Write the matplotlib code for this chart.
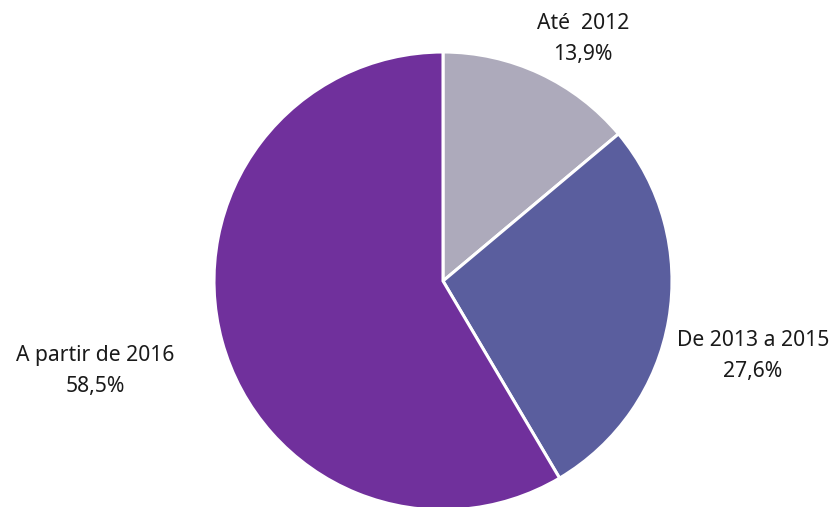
import matplotlib
matplotlib.use("Agg")
import matplotlib.pyplot as plt

# Data
categories = ["Até  2012", "De 2013 a 2015", "A partir de 2016"]
shares = [13.9, 27.6, 58.5]
pct_labels = ["13,9%", "27,6%", "58,5%"]
colors = ["#ADAABB", "#5A5E9E", "#70309C"]

# Layout (pixel coords, y measured from top)
W, H = 835, 507
CENTER = (443, 281)
RADIUS = 229
label_xy = [(583, 39), (753, 356), (95, 371)]

plt.rcParams["font.family"] = ["Noto Sans", "DejaVu Sans"]

fig = plt.figure(figsize=(W / 100, H / 100), dpi=100)
ax = fig.add_axes([0, 0, 1, 1])

ax.pie(shares, colors=colors, startangle=90, counterclock=False,
       center=(CENTER[0], H - CENTER[1]), radius=RADIUS,
       wedgeprops=dict(edgecolor="white", linewidth=2.2))

for (x, y), cat, pct in zip(label_xy, categories, pct_labels):
    ax.text(x, H - y, f"{cat}\n{pct}", ha="center", va="center",
            fontsize=15.2, color="#1a1a1a", linespacing=1.6)

ax.set_xlim(0, W)
ax.set_ylim(0, H)
ax.set_aspect("equal")
ax.axis("off")

fig.savefig("out.png", dpi=100)
